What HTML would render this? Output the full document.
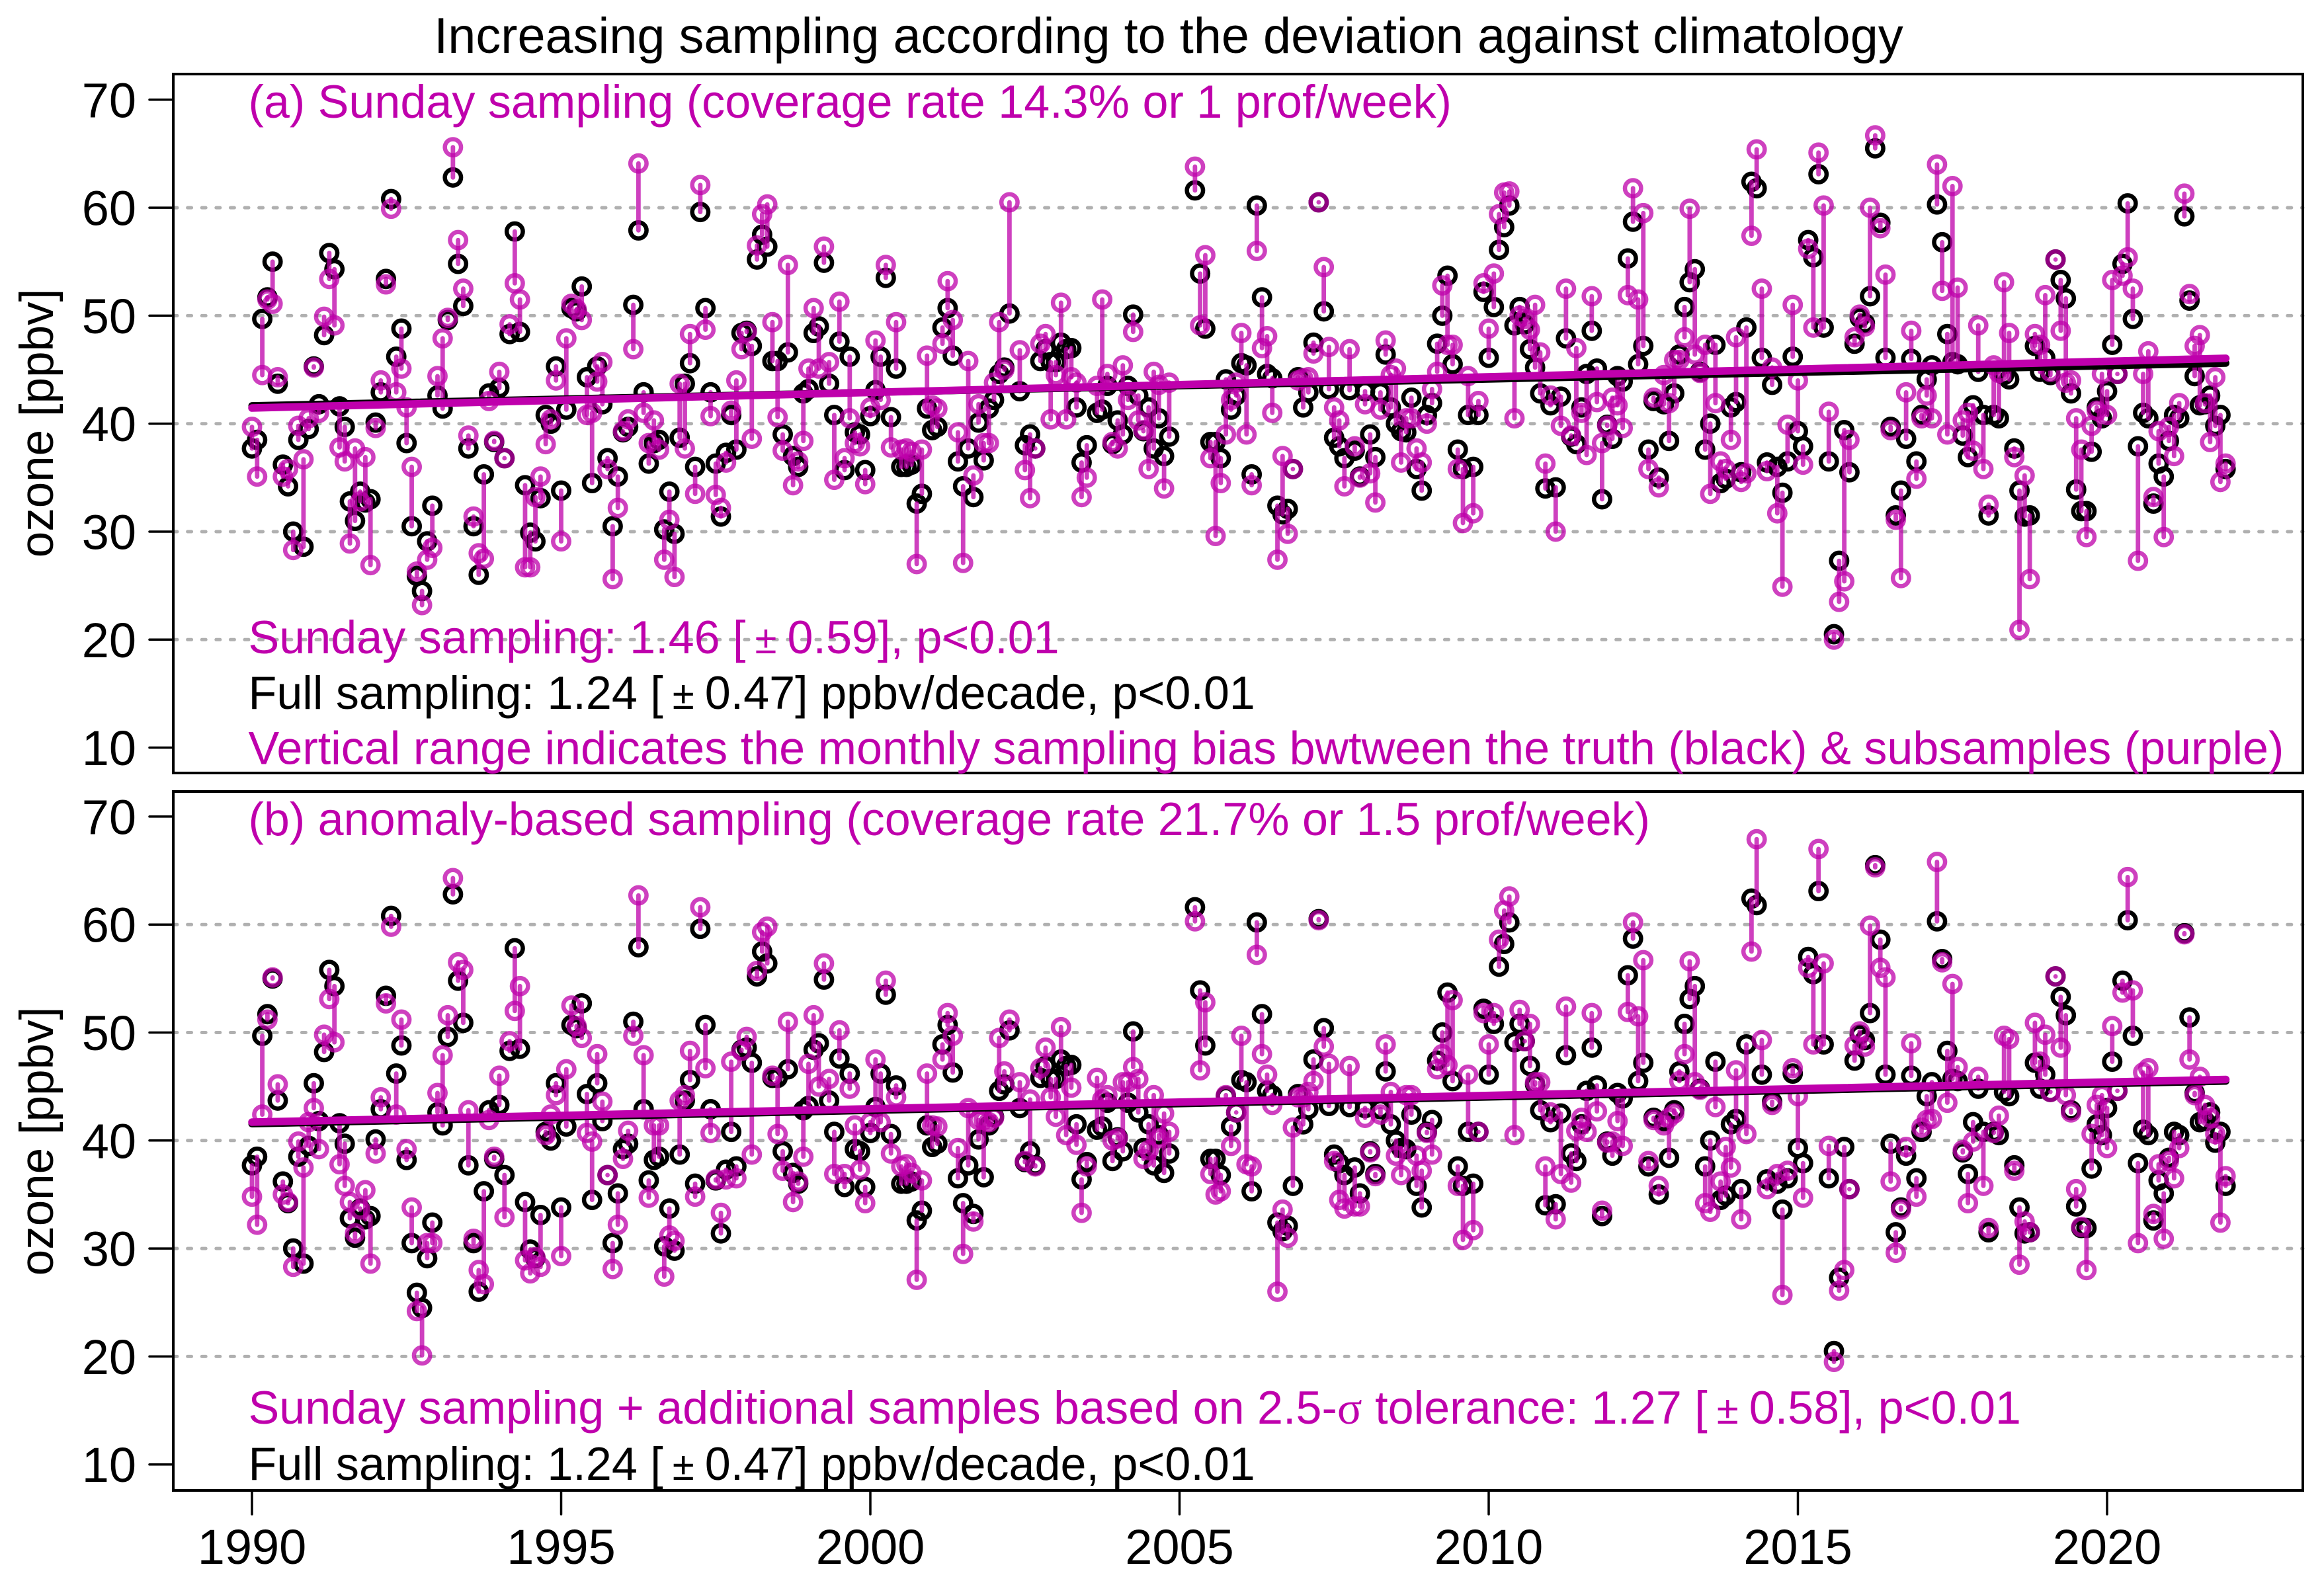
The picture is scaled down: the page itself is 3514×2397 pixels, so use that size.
<!DOCTYPE html>
<html>
<head>
<meta charset="utf-8">
<title>Increasing sampling according to the deviation against climatology</title>
<style>
html,body{margin:0;padding:0;background:#fff;}
svg{display:block;}
text{font-family:"Liberation Sans",sans-serif;}
.panel-note{font-size:70.1px;}
.mag{fill:#bf00ac;}
.blk{fill:#000;}
.pm{font-size:60px;}
</style>
</head>
<body>
<svg id="chart" xmlns="http://www.w3.org/2000/svg" width="3514" height="2397" viewBox="0 0 3514 2397">
  <rect x="0" y="0" width="3514" height="2397" fill="#fff"/>
  <g id="panel-a"></g>
  <g id="panel-b"></g>
  <text x="1767" y="80" text-anchor="middle" font-size="75.7" fill="#000">Increasing sampling according to the deviation against climatology</text>
  <text class="panel-note mag" x="375.5" y="178">(a) Sunday sampling (coverage rate 14.3% or 1 prof/week)</text>
  <text class="panel-note mag" x="375.5" y="988">Sunday sampling: 1.46 [<tspan class="pm" dx="14">±</tspan><tspan dx="16">0.59], p&lt;0.01</tspan></text>
  <text class="panel-note blk" x="375.5" y="1072">Full sampling: 1.24 [<tspan class="pm" dx="14">±</tspan><tspan dx="16">0.47] ppbv/decade, p&lt;0.01</tspan></text>
  <text class="panel-note mag" x="375.5" y="1155.5">Vertical range indicates the monthly sampling bias bwtween the truth (black) &amp; subsamples (purple)</text>
  <text class="panel-note mag" x="375.5" y="1263">(b) anomaly-based sampling (coverage rate 21.7% or 1.5 prof/week)</text>
  <text class="panel-note mag" x="375.5" y="2153">Sunday sampling + additional samples based on 2.5-<tspan font-family="Liberation Serif">σ</tspan> tolerance: 1.27 [<tspan class="pm" dx="14">±</tspan><tspan dx="16">0.58], p&lt;0.01</tspan></text>
  <text class="panel-note blk" x="375.5" y="2238">Full sampling: 1.24 [<tspan class="pm" dx="14">±</tspan><tspan dx="16">0.47] ppbv/decade, p&lt;0.01</tspan></text>
</svg>
<script>
const yTickValues = [10, 20, 30, 40, 50, 60, 70];
const gridValues = [20, 30, 40, 50, 60];
const xTickYears = [1990, 1995, 2000, 2005, 2010, 2015, 2020];
const firstYear = 1990;
const trendYears = [1990, 2021.92];
const trendFullA = [41.66, 45.6];
const trendSunday = [41.45, 46.05];
const trendFullB = [41.55, 45.5];
const trendAnomaly = [41.7, 45.65];

const truth = [
37.7,38.5,49.7,51.7,55.0,43.7,36.2,34.2,30.0,38.5,28.6,39.5,
45.3,41.8,48.2,55.8,54.3,41.6,39.7,32.8,31.0,33.7,32.7,33.0,
40.1,42.9,53.4,60.8,46.2,48.8,38.2,30.5,25.9,24.5,29.1,32.4,
42.6,41.4,49.6,62.8,54.8,50.9,37.7,30.5,26.0,35.3,42.8,38.3,
43.3,36.8,48.3,57.8,48.5,34.3,29.9,29.1,33.1,40.8,40.0,45.3,
33.8,41.3,50.7,50.4,52.7,44.3,34.5,45.3,41.8,36.8,30.5,35.1,
39.2,39.7,51.0,57.9,42.9,36.3,38.2,38.5,30.2,33.7,29.8,38.7,
43.7,45.6,36.0,59.6,50.7,42.9,36.3,31.4,37.3,40.8,37.6,48.4,
48.6,47.2,55.2,57.5,56.4,45.8,45.8,39.0,46.6,37.0,36.0,42.8,
43.2,48.4,49.0,54.9,43.7,40.8,47.6,35.7,46.2,39.2,39.0,35.7,
40.7,43.1,46.2,53.5,40.6,45.1,36.0,36.0,36.2,32.6,33.5,41.4,
39.4,39.7,48.9,50.7,46.3,36.5,34.2,37.7,33.2,40.1,36.6,41.4,
42.2,44.6,45.2,50.2,null,43.0,38.0,39.0,37.7,45.8,46.9,45.7,
45.7,47.5,46.9,47.0,41.5,36.4,38.0,null,41.0,41.3,43.5,38.1,
40.3,39.0,43.5,50.1,42.6,39.3,41.5,37.7,40.5,37.0,38.8,null,
null,null,null,61.6,53.9,48.8,38.3,38.3,36.8,44.1,41.3,42.6,
45.6,45.4,35.3,60.2,51.7,44.6,44.2,32.4,31.6,32.1,35.8,44.3,
41.5,42.9,47.5,60.5,50.4,43.2,38.7,37.9,36.8,43.1,37.5,35.1,
43.0,39.0,36.9,42.9,46.4,41.5,40.0,39.3,39.2,42.4,35.8,33.8,
40.8,41.9,47.4,50.0,53.7,45.5,37.6,35.8,40.8,36.0,40.8,52.2,
46.1,50.8,56.1,58.2,60.2,49.1,50.8,49.2,46.9,45.2,42.8,34.0,
41.7,34.1,42.5,47.9,38.8,38.1,41.5,44.6,48.6,45.1,33.0,39.9,
38.6,44.4,43.9,55.3,58.7,45.5,47.2,37.6,42.1,35.0,41.8,38.4,
42.8,46.4,50.8,53.1,54.3,44.8,37.6,40.0,47.3,34.5,34.9,41.5,
42.0,35.5,48.9,62.4,61.8,46.1,36.4,43.6,36.0,33.6,36.5,46.2,
39.3,37.9,57.0,55.4,63.1,48.9,36.5,20.5,27.3,39.4,35.5,47.4,
49.8,49.3,51.8,65.5,58.6,46.1,39.7,31.5,33.8,38.6,46.0,36.5,
40.8,44.1,45.4,60.3,56.8,48.3,45.7,45.5,38.9,36.9,41.7,44.8,
40.8,31.5,40.8,40.5,44.5,44.1,37.7,33.8,31.4,31.5,47.2,44.8,
46.1,44.5,55.2,53.3,51.6,42.8,33.9,31.9,31.9,37.4,41.5,40.5,
43.0,47.3,44.6,54.8,60.4,49.7,37.9,41.0,40.5,32.6,36.3,35.1,
38.4,40.8,40.5,59.2,51.4,44.4,41.7,41.8,42.6,39.8,40.8,35.8
];

const sundaySample = [
39.7,35.1,44.5,51.5,51.1,44.3,35.1,35.8,28.3,39.8,36.7,40.5,
45.2,41.0,49.9,53.4,49.1,37.8,36.5,28.9,37.7,32.8,36.9,26.9,
39.6,44.0,52.9,59.9,42.9,45.1,41.5,36.0,26.3,23.2,27.4,28.5,
44.4,47.9,49.8,65.6,57.0,52.5,38.9,31.4,28.0,27.5,42.1,38.4,
44.8,36.8,49.2,53.0,51.5,26.7,26.7,33.2,35.1,38.1,40.4,44.0,
29.1,47.9,51.1,50.6,49.6,40.8,41.0,43.9,45.7,35.8,25.6,32.2,
39.3,40.4,46.9,64.1,41.0,38.2,40.3,37.6,27.4,31.1,25.8,43.7,
37.7,48.3,33.5,62.1,48.7,40.7,33.4,32.2,36.4,41.2,44.0,46.9,
48.5,38.6,56.5,59.4,60.3,49.4,40.6,37.5,54.7,34.3,36.5,38.4,
45.1,50.7,45.1,56.4,45.7,34.8,51.3,36.8,40.5,38.2,37.9,34.4,
41.5,47.7,42.2,54.7,37.8,49.4,37.6,37.7,37.4,27.0,37.6,46.3,
41.7,41.4,47.4,53.2,49.6,39.2,27.1,45.8,35.2,41.8,38.2,38.2,
43.8,49.4,45.0,60.5,null,46.8,35.7,33.1,37.7,47.4,48.3,40.4,
44.5,51.2,40.4,44.3,43.8,33.2,35.0,null,43.5,51.5,44.6,38.3,
37.7,45.4,42.2,48.5,40.3,39.4,35.8,44.8,43.6,34.0,43.8,null,
null,null,null,63.8,49.1,55.6,36.8,29.6,34.5,39.0,42.2,43.8,
48.4,39.0,34.3,56.0,47.0,48.1,41.0,27.4,37.0,29.8,35.8,44.0,
44.2,44.3,46.5,60.5,54.5,47.1,41.5,40.3,34.2,46.9,37.9,35.0,
41.8,35.4,32.7,41.3,47.7,44.5,45.1,36.4,40.5,40.5,37.7,36.4,
40.0,43.2,44.8,52.8,47.3,47.3,35.8,30.8,44.4,31.7,42.1,53.0,
48.8,53.9,59.4,61.4,61.5,40.5,50.0,49.7,48.7,51.0,46.6,36.3,
42.6,30.0,39.8,52.5,38.9,47.0,41.0,37.1,51.8,42.0,38.2,39.8,
42.4,41.7,39.6,51.9,61.8,51.5,59.5,35.8,42.4,34.1,44.5,41.9,
45.9,45.9,48.0,59.9,46.4,44.7,47.3,33.5,41.9,36.5,35.8,38.5,
48.0,34.6,35.4,57.4,65.4,52.5,35.6,45.2,31.7,24.9,39.9,51.0,
44.0,36.2,56.2,48.9,65.1,60.2,41.1,20.0,23.5,25.4,38.5,48.0,
50.1,49.0,60.0,66.7,58.1,53.8,39.4,31.1,25.7,42.9,48.6,34.9,
40.5,42.6,40.5,64.0,52.3,39.0,62.0,52.6,40.3,41.0,37.5,49.1,
35.8,32.5,45.4,44.7,53.1,48.4,36.9,20.9,35.2,25.6,48.3,47.3,
51.9,44.8,55.2,48.6,43.8,44.0,40.5,37.6,29.5,39.8,41.2,44.6,
40.8,53.3,44.6,53.7,55.4,52.5,27.3,44.6,46.7,33.2,39.3,29.5,
39.7,37.0,41.9,61.3,52.0,47.2,48.2,41.9,38.3,44.3,34.6,36.3
];

const anomalySample = [
34.8,32.2,42.4,51.2,55.1,45.2,35.0,34.3,28.3,39.9,37.5,41.7,
43.0,39.2,49.8,53.1,49.1,37.8,35.8,34.3,31.4,33.6,35.4,28.6,
38.8,44.0,52.7,59.8,42.4,51.2,39.2,33.8,24.2,20.1,30.5,30.5,
44.4,47.9,51.6,64.3,56.5,55.8,42.8,30.9,28.0,26.7,41.9,38.5,
46.0,32.9,49.2,52.0,54.3,28.9,27.7,29.2,28.3,40.5,42.4,44.2,
29.3,46.6,52.5,50.6,49.5,40.7,39.9,48.0,43.6,36.8,28.1,32.2,
38.3,40.9,49.7,62.7,47.9,34.7,41.4,41.4,27.4,31.2,30.7,43.7,
44.2,48.3,34.8,61.6,46.7,40.7,36.4,33.3,36.4,47.3,36.5,48.3,
49.6,38.7,55.7,59.3,59.8,46.0,40.6,37.2,51.0,34.3,36.2,38.5,
47.1,51.6,45.0,56.4,45.7,36.9,50.2,36.9,44.8,41.4,37.3,34.2,
41.7,47.5,41.7,54.8,38.8,44.0,37.6,37.8,37.0,27.1,36.3,46.2,
41.4,41.3,47.5,51.8,49.7,39.3,29.5,43.0,32.5,41.9,41.9,41.7,
42.1,49.5,46.4,51.2,null,45.4,38.1,43.8,37.6,46.7,48.6,44.0,
42.2,50.5,40.5,44.9,39.6,33.3,37.6,null,45.8,43.8,44.2,40.0,
40.2,45.4,45.4,46.8,45.7,38.3,39.1,44.2,40.2,42.5,40.8,null,
null,null,null,60.3,46.5,52.8,36.9,35.0,35.3,44.2,39.5,42.6,
49.7,37.8,37.6,57.2,48.0,46.1,43.3,26.0,33.6,31.0,41.2,44.0,
44.0,44.5,45.5,60.4,48.7,47.1,38.1,34.5,33.7,46.9,33.9,33.9,
42.1,38.9,36.7,42.4,48.9,44.5,38.6,36.8,44.2,44.2,38.6,37.2,
40.7,38.7,46.6,48.0,47.0,53.0,35.8,30.8,46.1,31.7,40.8,51.8,
48.9,51.8,58.6,61.3,62.6,40.5,52.1,49.2,50.8,45.4,45.4,37.6,
42.6,32.7,36.9,52.4,36.1,40.9,42.1,40.8,51.8,42.7,33.5,39.8,
39.9,41.8,39.5,51.9,60.2,51.5,56.7,38.1,41.9,35.8,41.4,42.1,
42.5,45.5,48.0,56.6,45.4,44.7,34.2,33.4,43.1,36.2,39.4,37.5,
46.5,32.7,40.6,57.5,67.9,49.3,35.5,43.3,36.9,25.7,37.2,46.7,
44.1,34.7,56.0,48.9,67.0,56.4,39.5,19.5,26.1,28.0,35.5,48.8,
50.1,48.7,59.9,65.3,56.0,55.1,36.2,29.6,33.6,39.4,49.0,34.8,
41.2,41.9,42.0,65.8,56.5,43.5,54.5,46.8,39.1,34.2,39.9,45.9,
35.8,31.9,40.7,42.3,49.7,49.4,37.2,28.5,32.5,31.5,50.9,47.3,
49.8,44.5,55.2,48.6,44.2,42.6,35.5,32.0,28.0,40.6,43.3,44.2,
39.3,50.6,44.6,53.7,64.4,53.9,30.5,46.3,46.7,33.2,37.8,30.9,
38.1,36.5,39.3,59.1,47.5,44.2,45.9,43.3,42.1,40.6,32.4,36.7
];

const NS = 'http://www.w3.org/2000/svg';
const PLOT_LEFT = 262, PLOT_RIGHT = 3482;
const xOfYear = (yr) => 381 + (yr - 1990) * 93.5;
const MAG = '#bf00ac';
const STEM = 'rgba(190,0,170,0.75)';

function mk(parent, tag, attrs) {
  const el = document.createElementNS(NS, tag);
  for (const k in attrs) el.setAttribute(k, attrs[k]);
  parent.appendChild(el);
  return el;
}

function drawPanel(group, cfg) {
  const yOf = (v) => cfg.y10 - (v - 10) * 16.33;

  gridValues.forEach((v) => {
    const line = mk(group, 'line', {x1: PLOT_LEFT, x2: PLOT_RIGHT, y1: yOf(v), y2: yOf(v), stroke: '#b0b0b0', 'stroke-width': 5, 'stroke-dasharray': '6 15.6', 'stroke-linecap': 'round'});
    
    
  });

  truth.forEach((v, i) => {
    if (v === null) return;
    const c = mk(group, 'circle', {cx: xOfYear(firstYear + i / 12), cy: yOf(v), r: 12.2, fill: 'none', stroke: '#000', 'stroke-width': 6.5});
    
    
  });

  cfg.sample.forEach((v, i) => {
    if (v === null || truth[i] === null) return;
    const x = xOfYear(firstYear + i / 12);
    const stem = mk(group, 'line', {x1: x, x2: x, y1: yOf(truth[i]), y2: yOf(v), stroke: STEM, 'stroke-width': 6.8, 'stroke-linecap': 'round'});
    
    
    const c = mk(group, 'circle', {cx: x, cy: yOf(v), r: 12.2, fill: 'none', stroke: STEM, 'stroke-width': 6.5});
    
    
  });

  const tFull = mk(group, 'line', {x1: xOfYear(trendYears[0]), x2: xOfYear(trendYears[1]), y1: yOf(cfg.trendFull[0]), y2: yOf(cfg.trendFull[1]), stroke: '#000', 'stroke-width': 11, 'stroke-linecap': 'round'});
  
  
  const tSub = mk(group, 'line', {x1: xOfYear(trendYears[0]), x2: xOfYear(trendYears[1]), y1: yOf(cfg.trendSub[0]), y2: yOf(cfg.trendSub[1]), stroke: MAG, 'stroke-width': 11.5, 'stroke-linecap': 'round'});
  
  

  const frame = mk(group, 'rect', {x: PLOT_LEFT, y: cfg.top, width: PLOT_RIGHT - PLOT_LEFT, height: cfg.bottom - cfg.top, fill: 'none', stroke: '#000', 'stroke-width': 4});
  
  

  yTickValues.forEach((v) => {
    const tick = mk(group, 'line', {x1: 226, x2: PLOT_LEFT, y1: yOf(v), y2: yOf(v), stroke: '#000', 'stroke-width': 3.5, 'stroke-linecap': 'round'});
    
    
    const lab = mk(group, 'text', {x: 206, y: yOf(v) + 26.5, 'text-anchor': 'end', 'font-size': 74, fill: '#000'});
    
    
    lab.textContent = String(v);
  });

  const yl = mk(group, 'text', {x: 80, y: cfg.labelY, 'text-anchor': 'middle', 'font-size': 71, fill: '#000', transform: 'rotate(-90 80 ' + cfg.labelY + ')'});
  
  
  yl.textContent = 'ozone [ppbv]';

  if (cfg.showX) {
    xTickYears.forEach((yr) => {
      const x = xOfYear(yr);
      const tick = mk(group, 'line', {x1: x, x2: x, y1: cfg.bottom, y2: cfg.bottom + 36, stroke: '#000', 'stroke-width': 3.5, 'stroke-linecap': 'round'});
      
      
      const lab = mk(group, 'text', {x: x, y: 2365, 'text-anchor': 'middle', 'font-size': 74, fill: '#000'});
      
      
      lab.textContent = String(yr);
    });
  }
}

drawPanel(document.getElementById('panel-a'), {y10: 1130.6, top: 112, bottom: 1169, sample: sundaySample, trendFull: trendFullA, trendSub: trendSunday, labelY: 640, showX: false});
drawPanel(document.getElementById('panel-b'), {y10: 2214.7, top: 1197, bottom: 2254, sample: anomalySample, trendFull: trendFullB, trendSub: trendAnomaly, labelY: 1726, showX: true});
</script>
</body>
</html>
